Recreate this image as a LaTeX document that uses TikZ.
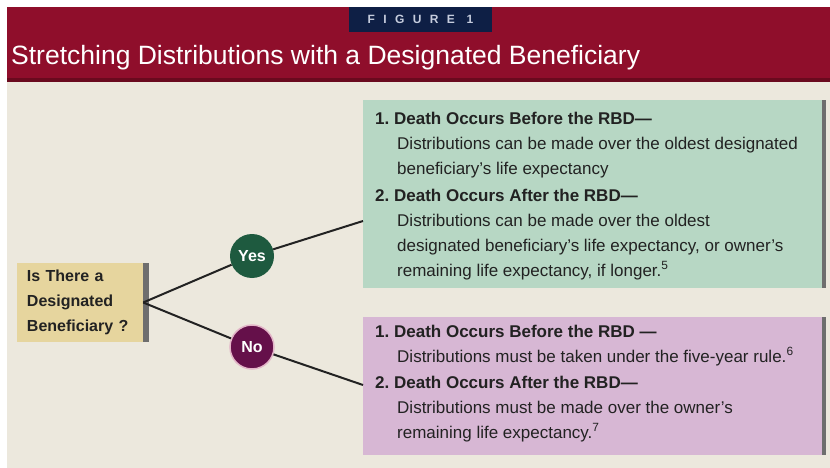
\documentclass[tikz,border=0pt]{standalone}
\usepackage{fontspec}
\setmainfont{Liberation Sans}
\newfontfamily\tabfont{Liberation Sans}[LetterSpace=70]
\usetikzlibrary{positioning}
\frenchspacing

\definecolor{bandred}{HTML}{8F0E2B}
\definecolor{bandline}{HTML}{6A0A1E}
\definecolor{tabnavy}{HTML}{0E1F45}
\definecolor{tabtext}{HTML}{C5CCDD}
\definecolor{paper}{HTML}{ECE8DD}
\definecolor{qtan}{HTML}{E6D59E}
\definecolor{yesgreen}{HTML}{B7D7C4}
\definecolor{nopurple}{HTML}{D7B7D4}
\definecolor{yesdark}{HTML}{1E5A3F}
\definecolor{nodark}{HTML}{65104A}
\definecolor{noring}{HTML}{E3B5C8}
\definecolor{shadowgrey}{HTML}{6E6E6E}
\definecolor{inkdark}{HTML}{222222}

\newcommand\ind{\hspace*{22pt}}

\begin{document}
\begin{tikzpicture}[x=1pt, y=-1pt,
        panel/.style={rectangle, anchor=north west, inner sep=0pt, minimum width=459pt},
        shade/.style={fill=shadowgrey, draw=none},
        qbox/.style={rectangle, fill=qtan, minimum width=126pt, minimum height=79pt, text width=106pt, inner sep=0pt, align=left, text=inkdark, font=\fontsize{16}{25}\selectfont\bfseries},
        answer/.style={circle, minimum size=44pt, inner sep=0pt, text=white, font=\fontsize{16}{16}\selectfont\bfseries},
        info/.style={anchor=north west, align=left, inner sep=0pt, text=inkdark, font=\fontsize{17}{25}\selectfont},
        branch/.style={line width=2pt, draw=inkdark}
    ]
        % page, band and title
        \fill[white] (0,0) rectangle (830,468);
        \useasboundingbox (0,0) rectangle (830,468);
        \fill[paper] (7,81) rectangle (830,468);
        \fill[bandred] (7,7) rectangle (830,81);
        \fill[bandline] (7,78) rectangle (830,82);
        \node[fill=tabnavy, minimum width=143pt, minimum height=25pt, inner sep=0pt, text=tabtext, font=\fontsize{12}{12}\selectfont\tabfont\bfseries] (tab) at (420.5,19.5) {FIGURE 1};
        \node[anchor=base west, inner sep=0pt, text=white, font=\fontsize{26.5}{26.5}\selectfont] (title) at (11,65) {Stretching Distributions with a Designated Beneficiary};

        % question
        \node[qbox] (q) at (80,302.5) {Is There a\\Designated\\Beneficiary ?};
        \fill[shade] (q.north east) rectangle ([xshift=6pt]q.south east);

        % outcome panels
        \node[panel, fill=yesgreen, minimum height=188pt] (yesbox) at (363,100) {};
        \node[panel, fill=nopurple, minimum height=138pt] (nobox) at (363,317) {};
        \fill[shade] (yesbox.north east) rectangle ([xshift=4pt]yesbox.south east);
        \fill[shade] (nobox.north east) rectangle ([xshift=4pt]nobox.south east);

        % yes / no
        \node[answer, fill=yesdark] (yes) at (252,256) {Yes};
        \node[answer, fill=nodark, draw=noring, line width=1.5pt] (no) at (252,347) {No};
        \coordinate (yesin) at (363,221);
        \coordinate (noin) at (363,385);
        \draw[branch] (q.east) -- (yes) -- (yesin);
        \draw[branch] (q.east) -- (no) -- (noin);

        % texts
        \node[info] (yes1) at (375,111.5) {\textbf{1. Death Occurs Before the RBD—}\\
            \ind Distributions can be made over the oldest designated\\
            \ind beneficiary's life expectancy};
        \node[info] (yes2) at (375,188.5) {\textbf{2. Death Occurs After the RBD—}\\
            \ind Distributions can be made over the oldest\\
            \ind designated beneficiary's life expectancy, or owner's\\
            \ind remaining life expectancy, if longer.\textsuperscript{5}};
        \node[info] (no1) at (375,324.5) {\textbf{1. Death Occurs Before the RBD —}\\
            \ind Distributions must be taken under the five-year rule.\textsuperscript{6}};
        \node[info] (no2) at (375,375.5) {\textbf{2. Death Occurs After the RBD—}\\
            \ind Distributions must be made over the owner's\\
            \ind remaining life expectancy.\textsuperscript{7}};
    \end{tikzpicture}
\end{document}
